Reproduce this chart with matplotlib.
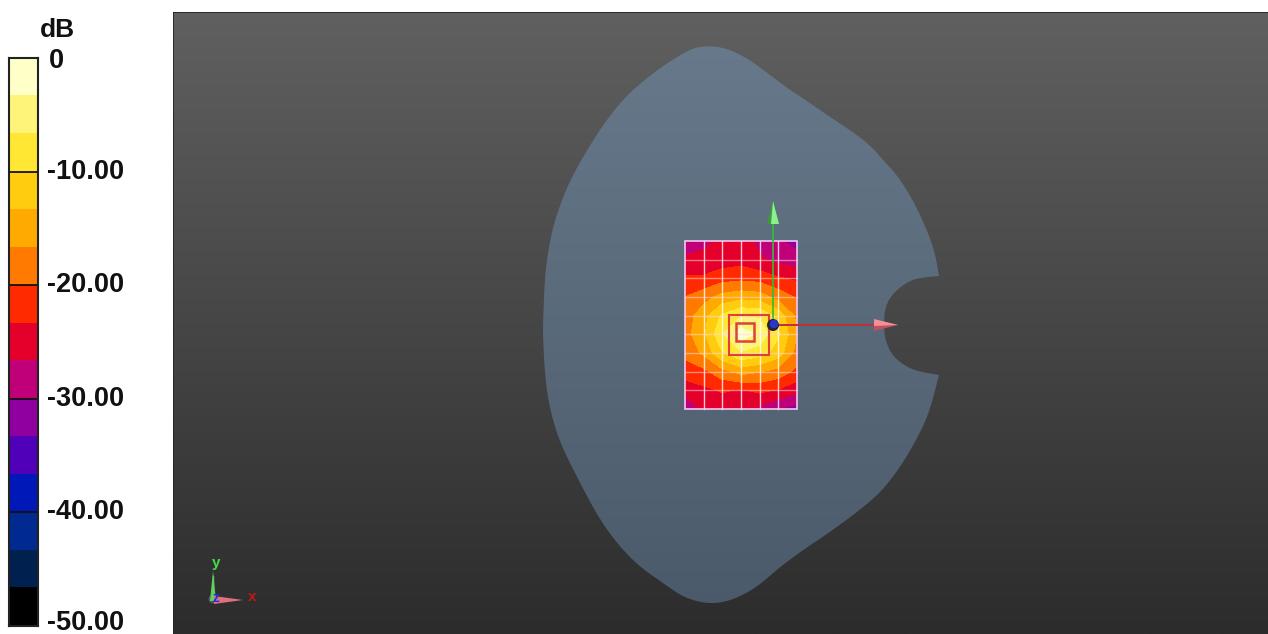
import matplotlib
matplotlib.use("Agg")
import matplotlib.pyplot as plt
from matplotlib.colors import LinearSegmentedColormap, ListedColormap, BoundaryNorm
from matplotlib.patches import Polygon, Rectangle, Circle
import numpy as np

W, H = 1268, 634
plt.rcParams['font.family'] = ['Liberation Sans', 'DejaVu Sans']

# colour scale, top (0 dB) to bottom (-50 dB)
band_colors = ['#FFFFC8', '#FFF47A', '#FFE733', '#FFCC10', '#FFAA00', '#FF7A00', '#FF2A00',
               '#E4002B', '#C00078', '#9000A0', '#5000B8', '#0018B8', '#002A90', '#00204F', '#000000']
band_edges = [0, -3.3, -6.6, -10, -13.3, -16.6, -20, -23.3, -26.6, -30, -33.3, -36.6, -40, -43.3, -46.6, -50]
tick_values = [0, -10, -20, -30, -40, -50]
tick_labels = ['0', '-10.00', '-20.00', '-30.00', '-40.00', '-50.00']

# measured dB on the scan grid (rows top to bottom)
grid_x = [685, 703.5, 722, 741, 759.5, 778, 797]
grid_y = [241, 260, 278, 297, 316, 334, 353, 372, 390, 409]
grid_db = [
    [-30.5, -28, -25.5, -25, -27.5, -29.5, -31.5],
    [-25.5, -25, -25, -24.5, -26, -27.5, -28.5],
    [-23, -23, -21.5, -21, -21.5, -23, -24],
    [-20, -18, -15.5, -14.5, -15, -18, -20.5],
    [-18.5, -14.5, -9.5, -6.6, -7, -11, -17.5],
    [-18, -14, -7, -1.5, -4, -9.5, -16.5],
    [-19, -16, -10.5, -7, -8.5, -11.5, -18],
    [-22, -21, -18, -15.5, -16.5, -18, -21],
    [-25, -24, -23, -23.5, -22.5, -23.5, -25.5],
    [-30.5, -25.5, -25, -25.5, -27.5, -30, -31.5],
]

# phantom outline in screen pixels: the big curve, then the notch
arc_x = [939, 935, 927, 913, 897, 883, 870, 850, 830, 810, 790, 770, 750, 733, 720, 707, 693, 677, 657,
         630, 610, 590, 570, 557, 550, 545, 543, 543, 545, 550, 560, 580, 600, 620, 640, 663, 683, 703,
         720, 737, 757, 780, 803, 830, 860, 883, 903, 920, 930, 939]
arc_y = [276, 253, 230, 200, 175, 160, 145, 130, 117, 103, 90, 75, 60, 51, 47, 46, 48, 57, 70,
         92, 115, 145, 180, 213, 240, 273, 323, 337, 377, 410, 443, 483, 520, 547, 567, 583, 597, 603,
         603, 598, 587, 567, 550, 532, 510, 490, 463, 433, 410, 375]
notch_x = [939, 927, 910, 893, 885, 884, 885, 893, 910, 927, 939]
notch_y = [375, 373, 369, 357, 340, 325, 307, 293, 280, 277, 276]


def smooth(xs, ys, n=3):
    # corner cutting, keeps the two end points
    pts = np.column_stack([xs, ys]).astype(float)
    for _ in range(n):
        q = 0.75 * pts[:-1] + 0.25 * pts[1:]
        r = 0.25 * pts[:-1] + 0.75 * pts[1:]
        mid = np.empty((2 * len(q), 2))
        mid[0::2] = q
        mid[1::2] = r
        pts = np.vstack([pts[:1], mid, pts[-1:]])
    return pts


fig = plt.figure(figsize=(W / 100, H / 100), dpi=100, facecolor='white')


def axes_px(left, top, right, bottom):
    return fig.add_axes([left / W, 1 - bottom / H, (right - left) / W, (bottom - top) / H])


# colour bar
cb = axes_px(9, 58, 38, 626)
for i, c in enumerate(band_colors):
    cb.barh(band_edges[i + 1], 1, height=band_edges[i] - band_edges[i + 1], left=0, align='edge', color=c, lw=0)
cb.set_xlim(0, 1)
cb.set_ylim(-50, 0)
cb.set_xticks([])
cb.set_yticks([])
for v, lab in zip(tick_values, tick_labels):
    if v == 0:
        off = (11, -3)
    elif v == -50:
        off = (9, 3)
    else:
        off = (9, 0)
    cb.annotate(lab, (1, v), xytext=off, textcoords='offset pixels',
                va='center', ha='left', fontsize=19.5, fontweight='bold', color='#111111',
                annotation_clip=False)
for v in tick_values[1:-1]:
    cb.axhline(v, color='#111111', lw=1.3)
for s in cb.spines.values():
    s.set_color('#222222')
    s.set_linewidth(1.5)
cb.text(1.66, 1.05, 'dB', transform=cb.transAxes, ha='center', va='center', fontsize=19,
        fontweight='bold', color='#111111')

# 3D view, axes use screen pixels
ax = axes_px(173, 12, W, H)
ax.set_xlim(173, W)
ax.set_ylim(H, 12)
ax.axis('off')
bg = LinearSegmentedColormap.from_list('bg', ['#606060', '#2C2C2C'])
ax.imshow(np.linspace(0, 1, 256)[:, None], cmap=bg, extent=(173, W, H, 12), aspect='auto', zorder=0)
ax.plot([173, 173, W], [H, 12, 12], color='#222222', lw=1.2, zorder=1)

outline = np.vstack([smooth(arc_x, arc_y, 3), smooth(notch_x, notch_y, 3)[1:-1]])
phantom = Polygon(outline, closed=True, fc='none', ec='none')
ax.add_patch(phantom)
body = LinearSegmentedColormap.from_list('body', ['#67798B', '#4B5A6A'])
im = ax.imshow(np.linspace(0, 1, 256)[:, None], cmap=body, extent=(173, W, 610, 40), aspect='auto', zorder=2)
im.set_clip_path(phantom)
ax.set_xlim(173, W)
ax.set_ylim(H, 12)

# scan area
cmap = ListedColormap(band_colors[::-1])
norm = BoundaryNorm(band_edges[::-1], cmap.N)
ax.contourf(grid_x, grid_y, grid_db, levels=band_edges[::-1], cmap=cmap, norm=norm, zorder=3)
for x in grid_x[1:-1]:
    ax.plot([x, x], [grid_y[0], grid_y[-1]], color='white', lw=1, alpha=0.8, zorder=4)
for y in grid_y[1:-1]:
    ax.plot([grid_x[0], grid_x[-1]], [y, y], color='#FFD8D8', lw=1, alpha=0.55, zorder=4)
ax.add_patch(Rectangle((grid_x[0], grid_y[0]), grid_x[-1] - grid_x[0], grid_y[-1] - grid_y[0],
                       fc='none', ec='#F4C8F0', lw=1.2, zorder=5))
ax.add_patch(Rectangle((729, 315), 40, 40, fc='none', ec='#E0403A', lw=1.5, zorder=5))
ax.add_patch(Rectangle((736, 323), 18, 18, fc='none', ec='#E0403A', lw=1.8, zorder=5))

# axis arrows and origin
ax.plot([773, 773], [325, 222], color='#30C030', lw=1.2, zorder=6)
ax.add_patch(Polygon([[773, 201], [767, 224], [779, 224]], fc='#3E9A3E', ec='none', zorder=7))
ax.add_patch(Polygon([[773, 201], [771, 224], [779, 224]], fc='#8CF08C', ec='none', zorder=7))
ax.plot([773, 875], [325, 325], color='#C03038', lw=1.4, zorder=6)
ax.add_patch(Polygon([[898, 325], [874, 319], [874, 331]], fc='#C05060', ec='none', zorder=7))
ax.add_patch(Polygon([[898, 325], [874, 319], [874, 326]], fc='#F09098', ec='none', zorder=7))
ax.add_patch(Circle((773, 325), 6, fc='#20243C', ec='none', zorder=8))
ax.add_patch(Circle((774, 324), 4.2, fc='#2838C8', ec='none', zorder=8))

# small triad
ax.plot([213, 213], [600, 576], color='#50C050', lw=1, zorder=6)
ax.add_patch(Circle((213, 599), 4.5, fc='#505560', ec='none', zorder=6))
ax.add_patch(Polygon([[213, 571], [210, 601], [216, 601]], fc='#60D060', ec='none', zorder=7))
ax.add_patch(Polygon([[243, 600], [214, 596], [214, 604]], fc='#E07080', ec='none', zorder=7))
ax.text(216, 563, 'y', color='#40E040', fontsize=11, fontweight='bold', ha='center', va='center', zorder=8)
ax.text(252, 597, 'x', color='#C01818', fontsize=11, fontweight='bold', ha='center', va='center', zorder=8)
ax.text(216, 598, 'z', color='#2030E0', fontsize=10, fontweight='bold', ha='center', va='center', zorder=8)

fig.savefig('out.png', dpi=100, facecolor='white')
